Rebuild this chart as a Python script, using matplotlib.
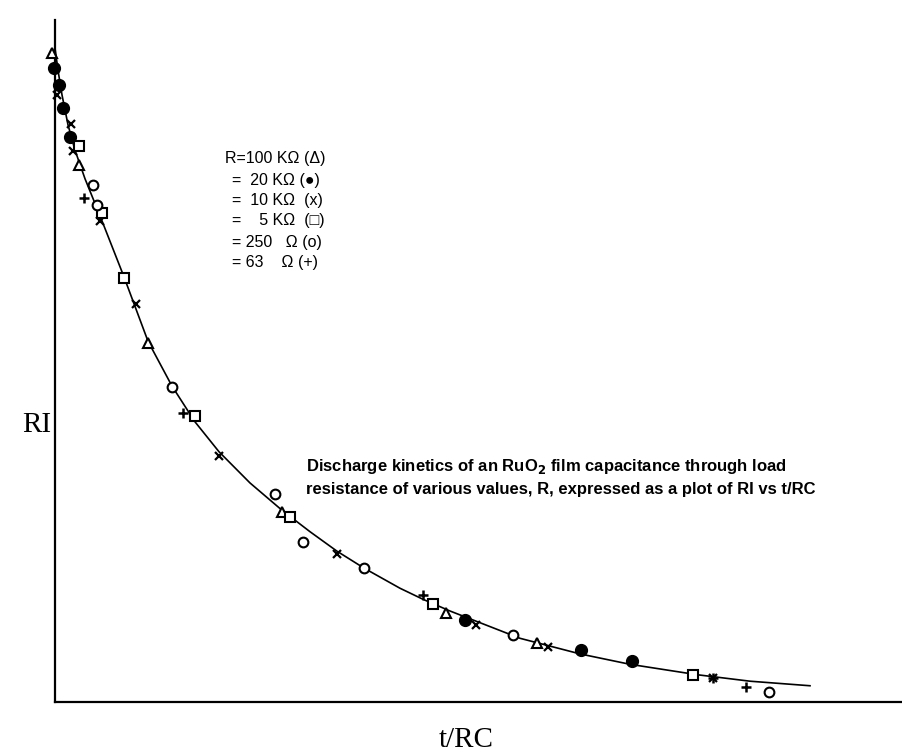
import matplotlib
matplotlib.use("Agg")
import matplotlib.pyplot as plt

# ---- data (t/RC, RI in arbitrary units) ----
curve_t = [0, 0.012, 0.028, 0.052, 0.08, 0.12, 0.18, 0.276, 0.372, 0.468, 0.56, 0.656,
           0.78, 0.908, 1.02, 1.128, 1.236, 1.38, 1.472, 1.58, 1.70, 1.86, 2.10, 2.30,
           2.568, 2.78, 3.02]
curve_ri = [1.006, 0.972, 0.934, 0.888, 0.849, 0.805, 0.748, 0.654, 0.555, 0.486, 0.431,
            0.385, 0.337, 0.295, 0.262, 0.232, 0.206, 0.175, 0.158, 0.140, 0.122, 0.098,
            0.074, 0.058, 0.042, 0.032, 0.025]

tri_t = [-0.012, 0.096, 0.372, 0.908, 1.564, 1.928]
tri_ri = [0.998, 0.826, 0.552, 0.292, 0.137, 0.091]

dot_t = [-0.004, 0.016, 0.032, 0.060, 1.640, 2.104, 2.308]
dot_ri = [0.975, 0.949, 0.914, 0.869, 0.126, 0.080, 0.063]

x_t = [0.008, 0.064, 0.072, 0.180, 0.324, 0.656, 1.128, 1.684, 1.972, 2.632]
x_ri = [0.934, 0.889, 0.848, 0.740, 0.612, 0.378, 0.228, 0.118, 0.085, 0.037]

sq_t = [0.096, 0.188, 0.276, 0.560, 0.940, 1.512, 2.552]
sq_ri = [0.855, 0.752, 0.652, 0.440, 0.285, 0.151, 0.042]

circ_t = [0.152, 0.168, 0.468, 0.880, 0.992, 1.236, 1.832, 2.856]
circ_ri = [0.795, 0.765, 0.485, 0.320, 0.246, 0.206, 0.103, 0.015]

plus_t = [0.116, 0.512, 1.472, 2.632, 2.764]
plus_ri = [0.775, 0.445, 0.165, 0.037, 0.023]

legend_lines = ["R=100 K\u03a9 (\u0394)",
                "=  20 K\u03a9 (\u25cf)",
                "=  10 K\u03a9  (x)",
                "=    5 K\u03a9  (\u25a1)",
                "= 250   \u03a9 (o)",
                "= 63    \u03a9 (+)"]
caption = ["Discharge kinetics of an RuO$_\\mathbf{2}$ film capacitance through load",
           "resistance of various values, R, expressed as a plot of RI vs t/RC"]

W, H = 903, 755
fig = plt.figure(figsize=(W / 100, H / 100), dpi=100)
ax = fig.add_axes([55 / W, (H - 702) / H, (W - 55) / W, (702 - 20) / H])
ax.set_xlim(0, 848 / 250)
ax.set_ylim(0, 682 / 650)
for s in ["top", "right"]:
    ax.spines[s].set_visible(False)
for s in ["left", "bottom"]:
    ax.spines[s].set_linewidth(1.6)
ax.set_xticks([])
ax.set_yticks([])

ax.plot(curve_t, curve_ri, color="black", lw=1.2, zorder=1)

kw = dict(linestyle="none", clip_on=False, zorder=3)
ax.plot(tri_t, tri_ri, marker="^", ms=7, mfc="white", mec="black", mew=1.5, **kw)
ax.plot(dot_t, dot_ri, marker="o", ms=8.5, mfc="black", mec="black", **kw)
ax.plot(x_t, x_ri, marker="x", ms=5.5, mec="black", mew=1.6, **kw)
ax.plot(sq_t, sq_ri, marker="s", ms=6.5, mfc="white", mec="black", mew=1.5, **kw)
ax.plot(circ_t, circ_ri, marker="o", ms=7, mfc="white", mec="black", mew=1.5, **kw)
ax.plot(plus_t, plus_ri, marker="+", ms=7, mec="black", mew=1.8, **kw)

sans = ["Liberation Sans", "DejaVu Sans"]
ys = [159, 180, 201, 221, 243, 263]
for i, (txt, yp) in enumerate(zip(legend_lines, ys)):
    xp = 225 if i == 0 else 232
    fig.text(xp / W, 1 - yp / H, txt, family=sans, fontsize=11.5,
             va="center", ha="left")

for txt, yp in zip(caption, [467, 489]):
    fig.text(306 / W, 1 - yp / H, txt, family=sans, fontsize=12,
             fontweight="bold", va="center", ha="left")

serif = ["Liberation Serif", "DejaVu Serif"]
fig.text(22 / W, 1 - 425 / H, "RI", family=serif, fontsize=21, va="center", ha="left")
fig.text(466 / W, 1 - 740 / H, "t/RC", family=serif, fontsize=21, va="center", ha="center")

fig.savefig("out.png", dpi=100)
